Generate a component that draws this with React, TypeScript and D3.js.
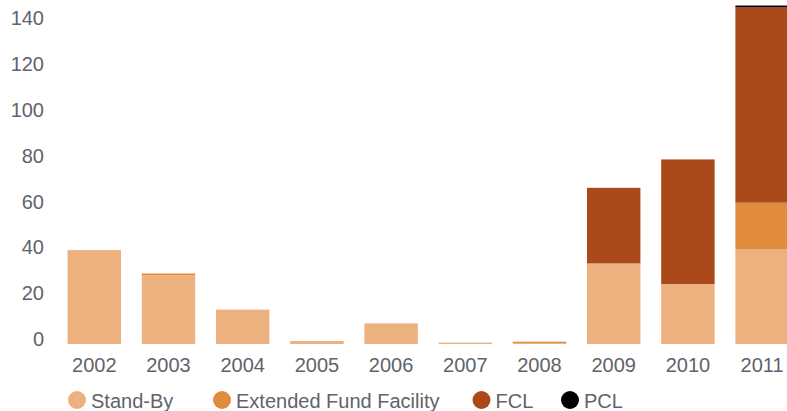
import React, { useRef, useEffect } from 'react';
import * as d3 from 'd3';

const years = ['2002', '2003', '2004', '2005', '2006', '2007', '2008', '2009', '2010', '2011'];
const standBy = [41, 30, 15, 1.3, 9, 0.6, 0.3, 35.2, 26.2, 41.3];
const extendedFund = [0, 0.8, 0, 0, 0, 0, 0.7, 0, 0, 20.4];
const fcl = [0, 0, 0, 0, 0, 0, 0, 33, 54.4, 85.3];
const pcl = [0, 0, 0, 0, 0, 0, 0, 0, 0, 0.8];

const seriesNames = ['Stand-By', 'Extended Fund Facility', 'FCL', 'PCL'];
const colors = ['#edb07f', '#e08b3e', '#aa4a1b', '#000000'];
const yTicks = [0, 20, 40, 60, 80, 100, 120, 140];

const width = 787;
const height = 411;
const font = '"Liberation Sans", Arial, sans-serif';

const App = () => {
  const ref = useRef<SVGSVGElement>(null);

  useEffect(() => {
    const svg = d3.select(ref.current);
    svg.selectAll('*').remove();

    const rows = years.map((yr, i) => ({
      year: yr,
      'Stand-By': standBy[i],
      'Extended Fund Facility': extendedFund[i],
      FCL: fcl[i],
      PCL: pcl[i],
    }));

    const stacked = d3.stack<any>().keys(seriesNames)(rows);

    const x = d3.scaleBand().domain(years).range([57.2, 799.2]).paddingInner(0.28).paddingOuter(0.14);
    const y = d3.scaleLinear().domain([0, 150]).range([344, 0.5]);
    const color = d3.scaleOrdinal<string>().domain(seriesNames).range(colors);

    // bars
    svg
      .append('g')
      .selectAll('g')
      .data(stacked)
      .join('g')
      .attr('fill', (d) => color(d.key))
      .selectAll('rect')
      .data((d) => d)
      .join('rect')
      .attr('x', (d) => x(d.data.year)!)
      .attr('y', (d) => y(d[1]))
      .attr('width', x.bandwidth())
      .attr('height', (d) => Math.max(0, y(d[0]) - y(d[1])));

    // y labels
    svg
      .append('g')
      .selectAll('text')
      .data(yTicks)
      .join('text')
      .attr('x', 44)
      .attr('y', (d) => y(d) - 5)
      .attr('dy', '0.35em')
      .attr('text-anchor', 'end')
      .attr('fill', '#5f636a')
      .style('font-family', font)
      .style('font-size', '20px')
      .text((d) => d);

    // x labels
    svg
      .append('g')
      .selectAll('text')
      .data(years)
      .join('text')
      .attr('x', (d) => x(d)! + x.bandwidth() / 2)
      .attr('y', 372)
      .attr('text-anchor', 'middle')
      .attr('fill', '#5f636a')
      .style('font-family', font)
      .style('font-size', '20px')
      .text((d) => d);

    // legend
    const legendX = [77, 222, 481.5, 570];
    const legend = svg
      .append('g')
      .selectAll('g')
      .data(seriesNames)
      .join('g')
      .attr('transform', (d, i) => `translate(${legendX[i]},400)`);
    legend.append('circle').attr('r', 9).attr('fill', (d) => color(d));
    legend
      .append('text')
      .attr('x', 14)
      .attr('y', 8)
      .attr('fill', '#5f636a')
      .style('font-family', font)
      .style('font-size', '20px')
      .text((d) => d);
  }, []);

  return (
    <svg
      ref={ref}
      width={width}
      height={height}
      style={{ position: 'absolute', left: 0, top: 0, background: '#fff' }}
    ></svg>
  );
};

export default App;
